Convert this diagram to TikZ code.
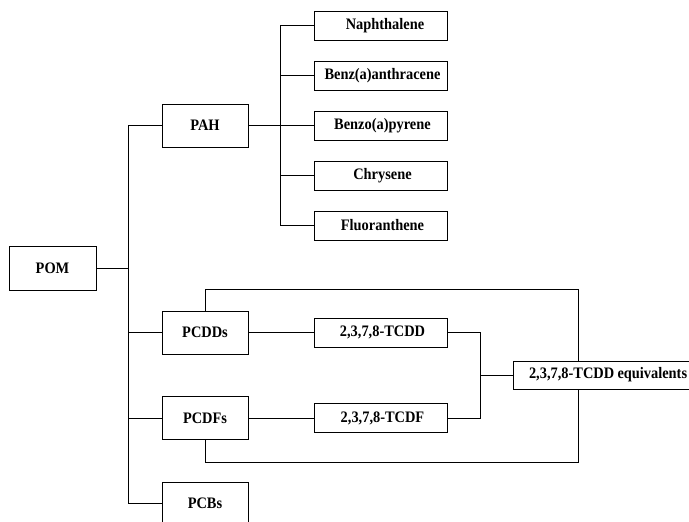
\documentclass[tikz,border=0pt]{standalone}
\usepackage{fontspec}
\setmainfont{Liberation Serif}[FakeStretch=0.9]

\begin{document}
\begin{tikzpicture}[box/.style={rectangle, draw=black, line width=0.8pt, inner sep=0pt, font=\fontsize{16}{18}\selectfont\bfseries},
big/.style={box, minimum width=86pt, minimum height=43pt},
leaf/.style={box, minimum width=133pt, minimum height=29pt},
link/.style={line width=0.8pt, color=black}]
\clip (0pt,0pt) rectangle (689pt,-522pt);
\node (1) [box, minimum width=87pt, minimum height=44pt] at (52.5pt, -268pt) {POM};
\node (2) [big] at (205pt, -125.5pt) {PAH};
\node (3) [big] at (205pt, -332.5pt) {PCDDs};
\node (4) [big] at (205pt, -418pt) {PCDFs};
\node (5) [big] at (205pt, -503.5pt) {PCBs};
\node (6) [leaf] at (380.5pt, -25.5pt) {\hspace{9pt}Naphthalene};
\node (7) [leaf] at (380.5pt, -75.5pt) {\hspace{4pt}Benz(a)anthracene};
\node (8) [leaf] at (380.5pt, -125.5pt) {\hspace{4pt}Benzo(a)pyrene};
\node (9) [leaf] at (380.5pt, -175.5pt) {\hspace{4pt}Chrysene};
\node (10) [leaf] at (380.5pt, -225.5pt) {\hspace{4pt}Fluoranthene};
\node (11) [leaf] at (380.5pt, -332.5pt) {\hspace{4pt}2,3,7,8-TCDD};
\node (12) [leaf] at (380.5pt, -418pt) {\hspace{4pt}2,3,7,8-TCDF};
\node (13) [box, minimum width=192pt, minimum height=28pt, text width=172pt, align=left] at (609pt, -375pt) {\hspace{6pt}2,3,7,8-TCDD\hspace{-2pt} equivalents};
\coordinate (a) at (128pt, -268pt);
\coordinate (b) at (280pt, -125.5pt);
\coordinate (c) at (480pt, -375pt);
% tree on the left
\draw [link] (1.east) -- (a);
\foreach \n in {2,...,5}
  \draw [link] (a) |- (\n.west);
\draw [link] (2.east) -- (b);
\foreach \n in {6,...,10}
  \draw [link] (b) |- (\n.west);
\draw [link] (3) -- (11);
\draw [link] (4) -- (12);
% toward the equivalents
\draw [link] (11.east) -| (c) -- (13.west);
\draw [link] (12.east) -| (c);
\draw [link] (3.north) -- ++(0,21pt) -| ([xshift=-31pt]13.north);
\draw [link] (4.south) -- ++(0,-22pt) -| ([xshift=-31pt]13.south);
\end{tikzpicture}
\end{document}
